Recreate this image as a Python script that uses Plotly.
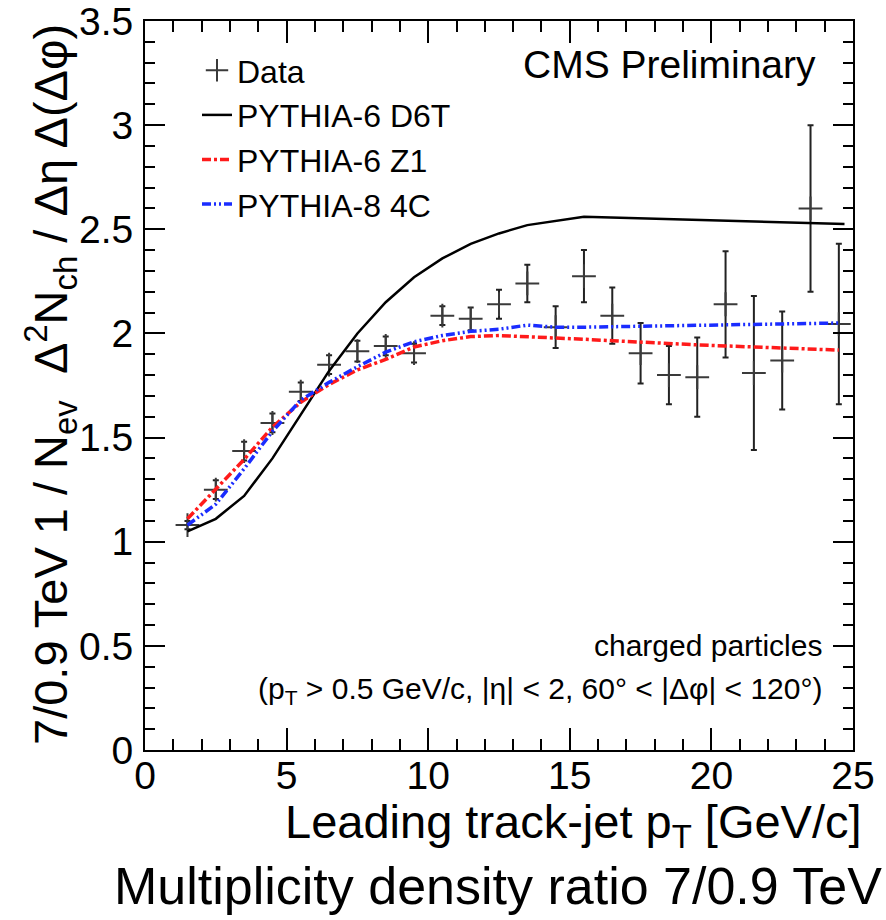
import plotly.graph_objects as go

# ---------------- data ----------------
data_x = [1.5, 2.5, 3.5, 4.5, 5.5, 6.5, 7.5, 8.5, 9.5, 10.5, 11.5, 12.5,
          13.5, 14.5, 15.5, 16.5, 17.5, 18.5, 19.5, 20.5, 21.5, 22.5, 23.5, 24.5]
data_y = [1.08, 1.25, 1.435, 1.57, 1.72, 1.85, 1.915, 1.94, 1.905, 2.085, 2.07, 2.14,
          2.24, 2.03, 2.275, 2.085, 1.905, 1.80, 1.79, 2.14, 1.81, 1.87, 2.60, 2.045]
data_err = [0.02, 0.045, 0.045, 0.045, 0.045, 0.045, 0.05, 0.045, 0.045, 0.045, 0.055, 0.07,
            0.09, 0.10, 0.125, 0.135, 0.145, 0.14, 0.19, 0.255, 0.37, 0.235, 0.40, 0.385]

d6t_x = [1.5, 2.5, 3.5, 4.5, 5.5, 6.5, 7.5, 8.5, 9.5, 10.5, 11.5, 12.5, 13.5, 14.5, 15.5, 24.7]
d6t_y = [1.05, 1.11, 1.22, 1.40, 1.61, 1.82, 2.00, 2.15, 2.27, 2.36, 2.43, 2.48, 2.52, 2.54, 2.56, 2.525]

mc_x = [1.5, 2.5, 3.5, 4.5, 5.5, 6.5, 7.5, 8.5, 9.5, 10.5, 11.5, 12.5,
        13.5, 14.5, 15.5, 16.5, 17.5, 18.5, 19.5, 20.5, 21.5, 22.5, 23.5, 24.5]
z1_y = [1.11, 1.25, 1.395, 1.55, 1.67, 1.755, 1.825, 1.875, 1.935, 1.965, 1.985, 1.99,
        1.985, 1.977, 1.972, 1.965, 1.957, 1.95, 1.945, 1.94, 1.935, 1.93, 1.925, 1.92]
c4_y = [1.08, 1.18, 1.35, 1.53, 1.68, 1.765, 1.84, 1.91, 1.96, 1.99, 2.01, 2.02,
        2.04, 2.03, 2.03, 2.032, 2.035, 2.037, 2.04, 2.04, 2.042, 2.045, 2.048, 2.05]

x_ticks = [0, 5, 10, 15, 20, 25]
x_tick_labels = ["0", "5", "10", "15", "20", "25"]
y_ticks = [0, 0.5, 1, 1.5, 2, 2.5, 3, 3.5]
y_tick_labels = ["0", "0.5", "1", "1.5", "2", "2.5", "3", "3.5"]

FONT = "Liberation Sans, Arial, Helvetica, sans-serif"

# ---------------- figure ----------------
fig = go.Figure()

fig.add_trace(go.Scatter(
    x=data_x, y=data_y, mode="markers", name="Data",
    marker=dict(symbol="cross-thin", size=17, color="#3a3a3a",
                line=dict(width=2, color="#3a3a3a")),
    error_y=dict(type="data", array=data_err, visible=True,
                 thickness=2, width=3, color="#222222"),
))

fig.add_trace(go.Scatter(
    x=d6t_x, y=d6t_y, mode="lines", name="PYTHIA-6 D6T",
    line=dict(color="black", width=2.5),
))

fig.add_trace(go.Scatter(
    x=mc_x, y=z1_y, mode="lines", name="PYTHIA-6 Z1",
    line=dict(color="#ff1a1a", width=3.5, dash="9px,3px,3px,3px"),
))

fig.add_trace(go.Scatter(
    x=mc_x, y=c4_y, mode="lines", name="PYTHIA-8 4C",
    line=dict(color="#1a2cff", width=3.5, dash="9px,3px,2px,3px,2px,3px"),
))

L, R, T, B = 145, 33, 21, 170
W, H = 886, 920
PW = W - L - R
PH = H - T - B


def px(xp):
    return (xp - L) / PW


def py(yp):
    return (H - B - yp) / PH


axis_common = dict(
    showgrid=False, zeroline=False, showline=True, linecolor="black",
    linewidth=2, mirror="allticks", ticks="inside", tickcolor="black",
    tickwidth=2, tickfont=dict(family=FONT, size=39, color="black"),
    ticklabeloverflow="allow", automargin=False,
)

fig.update_xaxes(
    range=[0, 25], tickvals=x_ticks, ticktext=x_tick_labels, ticklen=22,
    ticklabelstandoff=-10,
    minor=dict(dtick=1, ticks="inside", ticklen=11, tickwidth=1.5, tickcolor="black"),
    **axis_common,
)
fig.update_yaxes(
    range=[0, 3.5], tickvals=y_ticks, ticktext=y_tick_labels, ticklen=20,
    ticklabelstandoff=2,
    minor=dict(dtick=0.1, ticks="inside", ticklen=10, tickwidth=1.5, tickcolor="black"),
    **axis_common,
)

annotations = [
    dict(text="CMS Preliminary", x=px(818), y=py(64), xanchor="right", yanchor="middle",
         font=dict(family=FONT, size=39, color="black")),
    dict(text="charged particles", x=px(824), y=py(645), xanchor="right", yanchor="middle",
         font=dict(family=FONT, size=30, color="black")),
    dict(text="(p<sub>T</sub> > 0.5 GeV/c, |η| < 2, 60° < |Δφ| < 120°)", x=px(824), y=py(690),
         xanchor="right", yanchor="middle", font=dict(family=FONT, size=30, color="black")),
    dict(text="Leading track-jet p<sub>T</sub> [GeV/c]", x=px(864), y=py(825),
         xanchor="right", yanchor="middle", font=dict(family=FONT, size=47, color="black")),
    dict(text="Multiplicity density ratio 7/0.9 TeV", x=px(884), y=py(886),
         xanchor="right", yanchor="middle", font=dict(family=FONT, size=52, color="black")),
    dict(text="7/0.9 TeV 1 / N<sub>ev</sub>\u00a0\u00a0Δ<sup>2</sup>N<sub>ch</sub> / Δη Δ(Δφ)",
         x=px(50), y=py(385), textangle=-90, xanchor="center", yanchor="middle",
         font=dict(family=FONT, size=47, color="black")),
]
for a in annotations:
    a.update(xref="paper", yref="paper", showarrow=False)

fig.update_layout(
    width=W, height=H, autosize=False,
    margin=dict(l=L, r=R, t=T, b=B, pad=0),
    paper_bgcolor="white", plot_bgcolor="white",
    font=dict(family=FONT, color="black"),
    showlegend=True,
    legend=dict(x=px(197), y=py(43), xanchor="left", yanchor="top",
                bgcolor="rgba(0,0,0,0)", borderwidth=0,
                font=dict(family=FONT, size=32, color="black"),
                tracegroupgap=0, itemwidth=30),
    annotations=annotations,
)

fig.write_html("out.html")
